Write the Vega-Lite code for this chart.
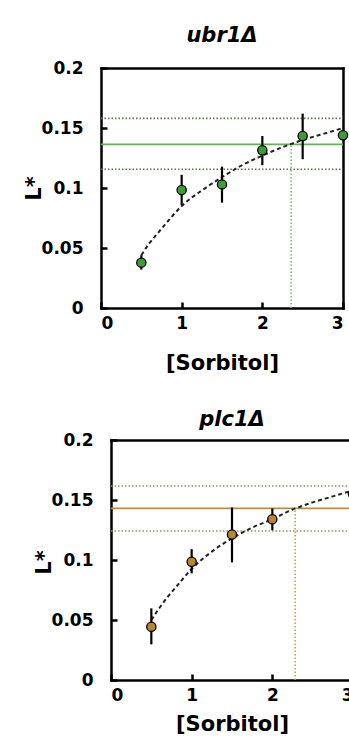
{
  "$schema": "https://vega.github.io/schema/vega-lite/v6.json",
  "padding": {"left": 23, "top": 25, "right": 0, "bottom": 0},
  "spacing": 36,
  "datasets": {
    "ptsTop": [
      {"x": 0.5, "y": 0.0378, "lo": 0.032, "hi": 0.044},
      {"x": 1, "y": 0.0983, "lo": 0.0858, "hi": 0.111},
      {"x": 1.5, "y": 0.103, "lo": 0.0878, "hi": 0.1178},
      {"x": 2, "y": 0.1314, "lo": 0.119, "hi": 0.1433},
      {"x": 2.5, "y": 0.1433, "lo": 0.124, "hi": 0.162},
      {"x": 3, "y": 0.1439, "lo": 0.1439, "hi": 0.1439}
    ],
    "fitTop": [
      {"x": 0.5, "y": 0.044}, {"x": 0.6, "y": 0.054}, {"x": 0.7, "y": 0.062},
      {"x": 0.8, "y": 0.07}, {"x": 1, "y": 0.085}, {"x": 1.25, "y": 0.098},
      {"x": 1.5, "y": 0.109}, {"x": 1.75, "y": 0.119}, {"x": 2, "y": 0.127},
      {"x": 2.25, "y": 0.134}, {"x": 2.5, "y": 0.14}, {"x": 2.75, "y": 0.145},
      {"x": 3, "y": 0.15}
    ],
    "hTop": [
      {"kind": "solid", "y": 0.1364, "x1": 0, "x2": 3},
      {"kind": "dotted", "y": 0.158, "x1": 0, "x2": 3},
      {"kind": "dotted", "y": 0.1156, "x1": 0, "x2": 3}
    ],
    "vTop": [{"x": 2.357, "y1": 0, "y2": 0.1364}],
    "ptsBot": [
      {"x": 0.5, "y": 0.0444, "lo": 0.0297, "hi": 0.0597},
      {"x": 1, "y": 0.0986, "lo": 0.0889, "hi": 0.109},
      {"x": 1.5, "y": 0.1213, "lo": 0.098, "hi": 0.1438},
      {"x": 2, "y": 0.1339, "lo": 0.1247, "hi": 0.143},
      {"x": 3, "y": 0.155, "lo": 0.155, "hi": 0.155}
    ],
    "fitBot": [
      {"x": 0.5, "y": 0.05}, {"x": 0.6, "y": 0.06}, {"x": 0.7, "y": 0.069},
      {"x": 0.8, "y": 0.077}, {"x": 1, "y": 0.0925}, {"x": 1.25, "y": 0.107},
      {"x": 1.5, "y": 0.118}, {"x": 1.75, "y": 0.127}, {"x": 2, "y": 0.134},
      {"x": 2.25, "y": 0.142}, {"x": 2.5, "y": 0.148}, {"x": 2.75, "y": 0.153},
      {"x": 3, "y": 0.158}
    ],
    "hBot": [
      {"kind": "solid", "y": 0.143, "x1": 0, "x2": 3},
      {"kind": "dotted", "y": 0.1617, "x1": 0, "x2": 3},
      {"kind": "dotted", "y": 0.1242, "x1": 0, "x2": 3}
    ],
    "vBot": [{"x": 2.283, "y1": 0, "y2": 0.143}]
  },
  "vconcat": [
    {
      "width": 242,
      "height": 240,
      "title": {"text": "ubr1Δ", "offset": 13},
      "resolve": {"axis": {"x": "independent", "y": "independent"}},
      "layer": [
        {
          "data": {"name": "hTop"},
          "transform": [{"filter": "datum.kind == 'dotted'"}],
          "mark": {"type": "rule", "color": "#557a4c", "strokeWidth": 1.6, "strokeDash": [1.5, 2]},
          "encoding": {
            "x": {"field": "x1", "type": "quantitative", "scale": {"domain": [0, 3], "nice": false},
                  "axis": {"orient": "top", "labels": false, "ticks": false, "title": null, "domainCap": "square"}},
            "x2": {"field": "x2"},
            "y": {"field": "y", "type": "quantitative", "scale": {"domain": [0, 0.2], "nice": false},
                  "axis": {"orient": "right", "labels": false, "ticks": false, "title": null, "domainCap": "square"}}
          }
        },
        {
          "data": {"name": "hTop"},
          "transform": [{"filter": "datum.kind == 'solid'"}],
          "mark": {"type": "rule", "color": "#5cb54e", "strokeWidth": 1.8},
          "encoding": {
            "x": {"field": "x1", "type": "quantitative", "axis": null},
            "x2": {"field": "x2"},
            "y": {"field": "y", "type": "quantitative", "axis": null}
          }
        },
        {
          "data": {"name": "vTop"},
          "mark": {"type": "rule", "color": "#72c864", "strokeWidth": 1.6, "strokeDash": [1.5, 2]},
          "encoding": {
            "x": {"field": "x", "type": "quantitative", "axis": null},
            "y": {"field": "y1", "type": "quantitative", "axis": null},
            "y2": {"field": "y2"}
          }
        },
        {
          "data": {"name": "fitTop"},
          "mark": {"type": "line", "color": "#222222", "strokeWidth": 2, "strokeDash": [4, 3], "interpolate": "monotone"},
          "encoding": {
            "x": {"field": "x", "type": "quantitative", "axis": null},
            "y": {"field": "y", "type": "quantitative", "axis": null}
          }
        },
        {
          "data": {"name": "ptsTop"},
          "mark": {"type": "rule", "color": "black", "strokeWidth": 2.2},
          "encoding": {
            "x": {"field": "x", "type": "quantitative",
                  "axis": {"orient": "bottom", "values": [0, 1, 2, 3], "format": "d", "title": "[Sorbitol]", "labelPadding": 13, "titlePadding": 21, "domainCap": "square"}},
            "y": {"field": "lo", "type": "quantitative",
                  "axis": {"orient": "left", "values": [0, 0.05, 0.1, 0.15, 0.2], "format": ".2~f", "title": "L*", "labelPadding": 24, "titleX": -57, "titleY": 120, "domainCap": "square"}},
            "y2": {"field": "hi"}
          }
        },
        {
          "data": {"name": "ptsTop"},
          "mark": {"type": "point", "filled": true, "fill": "#3f9b37", "stroke": "black", "strokeWidth": 1.3, "opacity": 1, "size": 85, "shape": "circle"},
          "encoding": {
            "x": {"field": "x", "type": "quantitative", "axis": null},
            "y": {"field": "y", "type": "quantitative", "axis": null}
          }
        }
      ]
    },
    {
      "width": 252,
      "height": 240,
      "title": {"text": "plc1Δ", "offset": 1, "dx": 5},
      "resolve": {"axis": {"x": "independent", "y": "independent"}},
      "layer": [
        {
          "data": {"name": "hBot"},
          "transform": [{"filter": "datum.kind == 'dotted'"}],
          "mark": {"type": "rule", "color": "#9c8d62", "strokeWidth": 1.6, "strokeDash": [1.5, 2]},
          "encoding": {
            "x": {"field": "x1", "type": "quantitative", "scale": {"domain": [0, 3], "nice": false, "rangeMin": 10},
                  "axis": {"orient": "top", "labels": false, "ticks": false, "title": null, "domainCap": "square"}},
            "x2": {"field": "x2"},
            "y": {"field": "y", "type": "quantitative", "scale": {"domain": [0, 0.2], "nice": false}, "axis": null}
          }
        },
        {
          "data": {"name": "hBot"},
          "transform": [{"filter": "datum.kind == 'solid'"}],
          "mark": {"type": "rule", "color": "#b88f3c", "strokeWidth": 1.8},
          "encoding": {
            "x": {"field": "x1", "type": "quantitative", "axis": null},
            "x2": {"field": "x2"},
            "y": {"field": "y", "type": "quantitative", "axis": null}
          }
        },
        {
          "data": {"name": "vBot"},
          "mark": {"type": "rule", "color": "#cfa044", "strokeWidth": 1.6, "strokeDash": [1.5, 2]},
          "encoding": {
            "x": {"field": "x", "type": "quantitative", "axis": null},
            "y": {"field": "y1", "type": "quantitative", "axis": null},
            "y2": {"field": "y2"}
          }
        },
        {
          "data": {"name": "fitBot"},
          "mark": {"type": "line", "color": "#222222", "strokeWidth": 2, "strokeDash": [4, 3], "interpolate": "monotone"},
          "encoding": {
            "x": {"field": "x", "type": "quantitative", "axis": null},
            "y": {"field": "y", "type": "quantitative", "axis": null}
          }
        },
        {
          "data": {"name": "ptsBot"},
          "mark": {"type": "rule", "color": "black", "strokeWidth": 2.2},
          "encoding": {
            "x": {"field": "x", "type": "quantitative",
                  "axis": {"orient": "bottom", "values": [0, 1, 2, 3], "format": "d", "title": "[Sorbitol]", "labelPadding": 13, "titlePadding": 10, "domainCap": "square"}},
            "y": {"field": "lo", "type": "quantitative",
                  "axis": {"orient": "left", "offset": -10, "values": [0, 0.05, 0.1, 0.15, 0.2], "format": ".2~f", "title": "L*", "labelPadding": 24, "titleX": -57, "titleY": 122, "domainCap": "square"}},
            "y2": {"field": "hi"}
          }
        },
        {
          "data": {"name": "ptsBot"},
          "mark": {"type": "point", "filled": true, "fill": "#b8862e", "stroke": "black", "strokeWidth": 1.3, "opacity": 1, "size": 85, "shape": "circle"},
          "encoding": {
            "x": {"field": "x", "type": "quantitative", "axis": null},
            "y": {"field": "y", "type": "quantitative", "axis": null}
          }
        }
      ]
    }
  ],
  "config": {
    "view": {"stroke": null},
    "axis": {
      "grid": false,
      "domainColor": "black", "domainWidth": 2.5,
      "tickColor": "black", "tickWidth": 2.5, "tickSize": -6,
      "labelFont": "DejaVu Sans", "labelFontWeight": "bold", "labelFontSize": 17, "labelColor": "black",
      "titleFont": "DejaVu Sans", "titleFontWeight": "bold", "titleFontSize": 21, "titleColor": "black"
    },
    "title": {"font": "DejaVu Sans", "fontSize": 21, "fontWeight": "bold", "fontStyle": "italic", "color": "black"}
  }
}
